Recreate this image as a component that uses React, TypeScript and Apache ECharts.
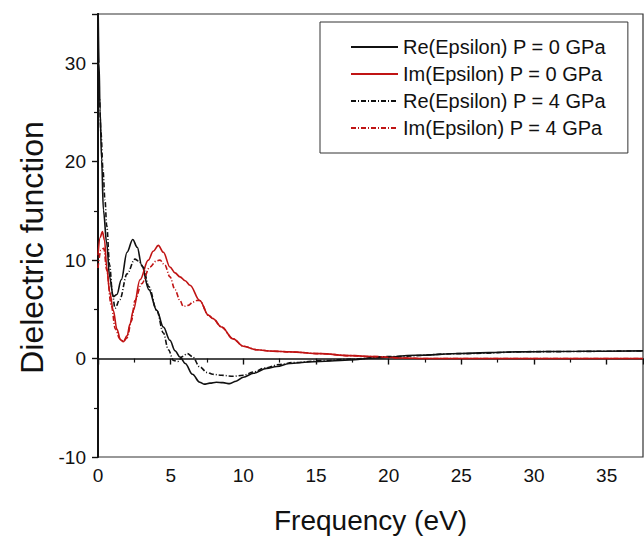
import React, { useEffect, useRef } from "react";
import * as echarts from "echarts";

const seriesNames = [
  "Re(Epsilon) P = 0 GPa",
  "Im(Epsilon) P = 0 GPa",
  "Re(Epsilon) P = 4 GPa",
  "Im(Epsilon) P = 4 GPa",
];

const re0Freq = [0, 0.07, 0.14, 0.25, 0.37, 0.6, 0.8, 1.05, 1.3, 1.6, 2.0, 2.39, 2.7, 3.0, 3.5, 4.04, 4.5, 4.95, 5.3, 5.64, 6.0, 6.5, 7.0, 7.3, 7.7, 8.14, 8.6, 9.06, 9.5, 10.0, 10.7, 11.6, 12.3, 13.2, 14.5, 16, 17.3, 19, 21.9, 25, 28.8, 33, 37.5];
const re0Val = [37, 30, 25.3, 20.2, 15.1, 11.7, 8.3, 6.3, 6.5, 8.0, 10.8, 12.1, 11.3, 9.5, 7.0, 4.9, 3.2, 1.86, 0.8, 0.16, -0.5, -1.6, -2.4, -2.6, -2.5, -2.4, -2.45, -2.55, -2.3, -1.9, -1.5, -1.0, -0.8, -0.5, -0.35, -0.25, -0.15, 0.05, 0.33, 0.52, 0.68, 0.74, 0.78];

const im0Freq = [0, 0.15, 0.3, 0.45, 0.6, 0.8, 1.05, 1.3, 1.55, 1.74, 2.0, 2.2, 2.43, 2.89, 3.46, 3.8, 4.15, 4.5, 4.95, 5.3, 5.64, 6.0, 6.33, 7.0, 7.6, 7.9, 8.5, 9.3, 10.0, 10.9, 12, 13.2, 15.3, 17.3, 19, 21, 22.5, 25, 30, 37.5];
const im0Val = [10.5, 12.3, 12.9, 12.0, 9.3, 6.8, 4.9, 3.0, 1.9, 1.7, 2.3, 3.5, 4.9, 8.0, 10.0, 10.9, 11.5, 10.8, 9.3, 8.7, 8.3, 7.9, 7.45, 5.9, 4.4, 4.07, 3.2, 2.0, 1.25, 0.9, 0.75, 0.68, 0.5, 0.3, 0.2, 0.05, 0, 0, 0, 0];

const re4Freq = [0, 0.1, 0.2, 0.35, 0.48, 0.6, 0.8, 1.0, 1.17, 1.5, 2.0, 2.54, 2.8, 3.1, 3.5, 4.04, 4.5, 4.84, 5.2, 5.5, 5.8, 6.15, 6.5, 7.0, 7.5, 7.9, 8.5, 9.3, 10.0, 10.7, 11.5, 12.5, 13.5, 15.5, 17.5, 20, 25, 30, 37.5];
const re4Val = [27, 26.5, 23, 19, 16.1, 13.5, 9.5, 6.5, 5.1, 6.0, 8.6, 10.1, 9.9, 9.3, 7.3, 4.9, 2.6, 0.9, -0.2, -0.3, 0.2, 0.5, 0.2, -0.85, -1.4, -1.6, -1.7, -1.8, -1.7, -1.36, -0.95, -0.6, -0.4, -0.2, -0.05, 0.2, 0.5, 0.7, 0.78];

const im4Freq = [0, 0.2, 0.4, 0.6, 0.9, 1.2, 1.5, 1.75, 2.0, 2.3, 2.54, 3.0, 3.58, 4.0, 4.26, 4.6, 4.95, 5.3, 5.64, 5.87, 6.2, 6.56, 6.79, 7.0, 7.6, 7.9, 8.5, 9.3, 10.0, 10.9, 12, 13.2, 15.3, 17.3, 19, 21, 22.5, 25, 30, 37.5];
const im4Val = [9.2, 11.0, 11.2, 9.0, 5.5, 3.0, 2.0, 1.75, 2.1, 3.8, 5.9, 7.6, 9.3, 9.9, 10.0, 9.5, 8.3, 7.0, 5.9, 5.3, 5.4, 5.76, 5.9, 5.9, 4.4, 4.07, 3.2, 2.0, 1.25, 0.9, 0.75, 0.68, 0.5, 0.3, 0.2, 0.05, 0, 0, 0, 0];

const xTicks = [0, 5, 10, 15, 20, 25, 30, 35];
const yTicks = [-10, 0, 10, 20, 30];

const pairs = (xs: number[], ys: number[]) => xs.map((x, i) => [x, ys[i]]);

const RED = "#c01414";
const BLACK = "#111111";
const FONT = "Liberation Sans, Arial, sans-serif";

export default function App() {
  const ref = useRef<HTMLDivElement>(null);
  useEffect(() => {
    if (!ref.current) return;
    const chart = echarts.init(ref.current, null, { renderer: "svg" });
    const dashDot = [5, 2, 1, 2];
    const mk = (name: string, data: number[][], color: string, dashed: boolean) => ({
      name,
      type: "line",
      data,
      symbol: "none",
      smooth: 0.35,
      smoothMonotone: "x",
      clip: true,
      lineStyle: { color, width: 1.6, type: dashed ? dashDot : "solid" },
      itemStyle: { color },
      z: dashed ? 3 : 2,
    });
    chart.setOption({
      animation: false,
      backgroundColor: "#ffffff",
      textStyle: { fontFamily: FONT },
      grid: {
        left: 98,
        right: 1,
        top: 14,
        bottom: 83,
        show: true,
        borderColor: "#333",
        borderWidth: 1.2,
        containLabel: false,
      },
      legend: {
        orient: "vertical",
        left: 320,
        top: 22,
        padding: [15, 22, 15, 30],
        itemWidth: 47,
        itemHeight: 14,
        itemGap: 7,
        borderColor: "#333",
        borderWidth: 1,
        data: seriesNames,
        itemStyle: { opacity: 0 },
        textStyle: { fontSize: 20, lineHeight: 20, color: "#111", fontFamily: FONT },
      },
      xAxis: {
        type: "value",
        min: 0,
        max: 37.5,
        interval: 5,
        name: "Frequency (eV)",
        nameLocation: "middle",
        nameGap: 49,
        nameTextStyle: { fontSize: 28, color: "#111", fontFamily: FONT },
        axisLine: { show: true, lineStyle: { color: "#111", width: 1.6 } },
        axisTick: { show: true, length: 6, lineStyle: { color: "#111", width: 1.4 } },
        minorTick: { show: true, splitNumber: 2, length: 4, lineStyle: { color: "#111", width: 1.2 } },
        splitLine: { show: false },
        axisLabel: {
          fontSize: 19,
          color: "#111",
          margin: 9,
          showMaxLabel: false,
          formatter: (v: number) => (xTicks.includes(v) ? String(v) : ""),
        },
      },
      yAxis: {
        type: "value",
        min: -10,
        max: 35,
        interval: 10,
        name: "Dielectric function",
        nameLocation: "middle",
        nameRotate: 90,
        nameGap: 46,
        nameTextStyle: { fontSize: 32, color: "#111", fontFamily: FONT, padding: [0, 24, 0, 0] },
        axisLine: { show: true, lineStyle: { color: "#111", width: 2 } },
        axisTick: { show: true, length: 6, lineStyle: { color: "#111", width: 1.4 } },
        minorTick: { show: true, splitNumber: 2, length: 4, lineStyle: { color: "#111", width: 1.2 } },
        splitLine: { show: false },
        axisLabel: {
          fontSize: 19,
          color: "#111",
          margin: 12,
          showMaxLabel: false,
          formatter: (v: number) => (yTicks.includes(v) ? String(v) : ""),
        },
      },
      series: [
        mk(seriesNames[0], pairs(re0Freq, re0Val), BLACK, false),
        mk(seriesNames[1], pairs(im0Freq, im0Val), RED, false),
        mk(seriesNames[2], pairs(re4Freq, re4Val), BLACK, true),
        mk(seriesNames[3], pairs(im4Freq, im4Val), RED, true),
      ],
    });
    return () => chart.dispose();
  }, []);
  return (
    <div
      ref={ref}
      style={{ position: "fixed", left: 0, top: 0, width: 644, height: 540, background: "#fff" }}
    />
  );
}
